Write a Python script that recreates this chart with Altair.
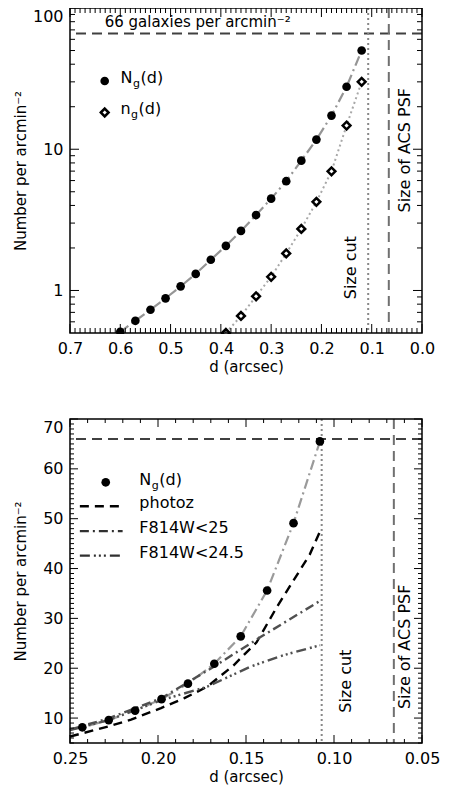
import altair as alt
import pandas as pd

# ---------------- data: top panel ----------------
top_d = [0.60, 0.57, 0.54, 0.51, 0.48, 0.45, 0.42, 0.39, 0.36, 0.33, 0.30, 0.27, 0.24, 0.21, 0.18, 0.15, 0.12]
top_Ng = [0.51, 0.61, 0.73, 0.88, 1.07, 1.31, 1.65, 2.07, 2.64, 3.42, 4.47, 5.94, 8.3, 11.7, 17.3, 27.7, 50.0]
top_nd = [0.39, 0.36, 0.33, 0.30, 0.27, 0.24, 0.21, 0.18, 0.15, 0.12]
top_ng = [0.50, 0.66, 0.91, 1.25, 1.83, 2.73, 4.24, 6.98, 14.7, 30.0]

# ---------------- data: bottom panel ----------------
bot_d = [0.243, 0.228, 0.213, 0.198, 0.183, 0.168, 0.153, 0.138, 0.123, 0.108]
bot_Ng = [8.15, 9.6, 11.5, 13.8, 16.9, 20.9, 26.4, 35.6, 49.1, 65.5]
ngcurve_d = [0.25, 0.243, 0.228, 0.213, 0.198, 0.183, 0.168, 0.153, 0.138, 0.123, 0.108]
ngcurve_v = [7.7, 8.15, 9.6, 11.5, 13.8, 16.9, 20.9, 26.4, 35.6, 49.1, 65.5]
photoz_d = [0.25, 0.2284, 0.2153, 0.1983, 0.185, 0.172, 0.157, 0.144, 0.1326, 0.1138, 0.108]
photoz_v = [6.3, 8.3, 9.7, 12.0, 14.0, 16.3, 20.6, 25.2, 32.2, 42.8, 47.4]
f25_d = [0.25, 0.2284, 0.198, 0.1683, 0.142, 0.108]
f25_v = [7.7, 9.9, 14.0, 20.3, 26.2, 33.5]
f245_d = [0.25, 0.228, 0.198, 0.172, 0.1476, 0.1289, 0.108]
f245_v = [7.6, 9.6, 13.6, 16.3, 20.3, 22.6, 24.6]

density_limit = 66
size_cut = 0.107
acs_psf = 0.066

# tick labels
top_x_major = [0.0, 0.1, 0.2, 0.3, 0.4, 0.5, 0.6, 0.7]
top_x_minor = [round(i * 0.01, 2) for i in range(71) if i % 10 != 0]
top_y_major = [1, 10, 100]
top_y_minor = [0.6, 0.7, 0.8, 0.9, 2, 3, 4, 5, 6, 7, 8, 9, 20, 30, 40, 50, 60, 70, 80, 90]
bot_x_major = [0.05, 0.10, 0.15, 0.20, 0.25]
bot_x_minor = [round(0.05 + i * 0.01, 2) for i in range(21) if i % 5 != 0]
bot_y_major = [10, 20, 30, 40, 50, 60, 70]
bot_y_minor = [v for v in range(5, 71) if v % 10 != 0]

FONT = "DejaVu Sans"
# layout (pixels): two panels stacked in one plotting area
W = 352
T0, T1 = 0, 325          # top panel vertical extent
B0, B1 = 411, 735        # bottom panel vertical extent
HT = B1

top_x = alt.Scale(domain=[0, 0.7], reverse=True, nice=False, zero=False)
top_y = alt.Scale(type="log", domain=[0.5, 100], nice=False, range=[T1, T0])
bot_x = alt.Scale(domain=[0.05, 0.25], reverse=True, nice=False, zero=False)
bot_y = alt.Scale(domain=[5, 70], nice=False, zero=False, range=[B1, B0])

y_title = "Number per arcmin\u207b\u00b2"


def x_axis(values, fmt, offset):
    return alt.Axis(orient="bottom", offset=offset, values=values, format=fmt, ticks=False, tickSize=0,
                    domain=False, grid=False, labelPadding=7, labelFlush=False, title="d (arcsec)",
                    titlePadding=3, zindex=2)


def y_axis(values, ymid):
    return alt.Axis(orient="left", values=values, format="d", ticks=False, tickSize=0, domain=False, grid=False,
                    labelPadding=7, labelFlush=True, title=y_title, titleX=-50, titleY=ymid,
                    titleAngle=270, titleBaseline="middle", titleAlign="center", zindex=2)


def xy(xscale, yscale):
    return dict(x=alt.X("x:Q", scale=xscale, axis=None), y=alt.Y("y:Q", scale=yscale, axis=None))


def text_layer(df, xscale, yscale, size=15, **kw):
    return alt.Chart(df).mark_text(font=FONT, fontSize=size, color="black", **kw).encode(
        text="t:N", **xy(xscale, yscale))


def tick_layers(xs, ys, xscale, yscale, L, y0, y1):
    out = []
    dx = pd.DataFrame({"v": xs})
    dy = pd.DataFrame({"v": ys})
    X = alt.X("v:Q", scale=xscale, axis=None)
    Y = alt.Y("v:Q", scale=yscale, axis=None)
    out.append(alt.Chart(dx).mark_rule(color="black", strokeWidth=1).encode(x=X, y=alt.value(y1), y2=alt.value(y1 - L)))
    out.append(alt.Chart(dx).mark_rule(color="black", strokeWidth=1).encode(x=X, y=alt.value(y0), y2=alt.value(y0 + L)))
    out.append(alt.Chart(dy).mark_rule(color="black", strokeWidth=1).encode(y=Y, x=alt.value(0), x2=alt.value(L)))
    out.append(alt.Chart(dy).mark_rule(color="black", strokeWidth=1).encode(y=Y, x=alt.value(W), x2=alt.value(W - L)))
    return out


def vrule(xv, xscale, color, dash, y0, y1):
    return alt.Chart(pd.DataFrame({"x": [xv]})).mark_rule(color=color, strokeWidth=2, strokeDash=dash).encode(
        x=alt.X("x:Q", scale=xscale, axis=None), y=alt.value(y0), y2=alt.value(y1))


def hrule(yv, yscale):
    return alt.Chart(pd.DataFrame({"y": [yv]})).mark_rule(color="#404040", strokeWidth=2, strokeDash=[10, 6]).encode(
        y=alt.Y("y:Q", scale=yscale, axis=None))


def frame(y0, y1):
    return alt.Chart(pd.DataFrame({"a": [0]})).mark_rect(filled=False, stroke="black", strokeWidth=1.5).encode(
        x=alt.value(0), x2=alt.value(W), y=alt.value(y0), y2=alt.value(y1))


# ================= TOP PANEL =================
df_tN = pd.DataFrame({"x": top_d, "y": top_Ng})
df_tn = pd.DataFrame({"x": top_nd, "y": top_ng})

t_axes = alt.Chart(df_tN).mark_point(opacity=0).encode(
    x=alt.X("x:Q", scale=top_x, axis=x_axis(top_x_major, ".1f", -(HT - T1))),
    y=alt.Y("y:Q", scale=top_y, axis=y_axis(top_y_major, (T0 + T1) / 2)),
)
t_points = alt.Chart(df_tN).mark_point(shape="circle", filled=True, color="black", size=75, opacity=1).encode(**xy(top_x, top_y))
t_Nline = alt.Chart(df_tN).mark_line(color="#959595", strokeWidth=2.2, strokeDash=[10, 4, 2, 4]).encode(**xy(top_x, top_y))
t_nline = alt.Chart(df_tn).mark_line(color="#a8a8a8", strokeWidth=2, strokeDash=[2, 3]).encode(**xy(top_x, top_y))
t_diam = alt.Chart(df_tn).mark_point(shape="diamond", filled=False, color="black", strokeWidth=2.5, size=60, opacity=1,
                                     fill="white", fillOpacity=1).encode(**xy(top_x, top_y))
t_h = hrule(density_limit, top_y)
t_cut = vrule(size_cut, top_x, "#888888", [2, 3], T0, T1)
t_psf = vrule(acs_psf, top_x, "#707070", [10, 6], T0, T1)

t_txt = text_layer(pd.DataFrame({"x": [0.631], "y": [80.0], "t": ["66 galaxies per arcmin\u207b\u00b2"]}),
                   top_x, top_y, 15, align="left", baseline="middle")
t_rot = text_layer(pd.DataFrame({"x": [0.142, 0.0335], "y": [1.45, 9.84], "t": ["Size cut", "Size of ACS PSF"]}),
                   top_x, top_y, 16, align="center", baseline="middle", angle=270)

t_leg_c = alt.Chart(pd.DataFrame({"x": [0.631], "y": [30.4]})).mark_point(shape="circle", filled=True, color="black", size=75, opacity=1).encode(**xy(top_x, top_y))
t_leg_d = alt.Chart(pd.DataFrame({"x": [0.631], "y": [18.2]})).mark_point(shape="diamond", filled=False, color="black", strokeWidth=2.5, size=60, opacity=1).encode(**xy(top_x, top_y))
t_leg_N = text_layer(pd.DataFrame({"x": [0.5994], "y": [31.9], "t": ["N"]}), top_x, top_y, 16, align="left", baseline="middle")
t_leg_Ng = text_layer(pd.DataFrame({"x": [0.5994], "y": [31.9], "t": ["g"]}), top_x, top_y, 11, align="left", baseline="middle", dx=12.5, dy=6)
t_leg_Nd = text_layer(pd.DataFrame({"x": [0.5994], "y": [31.9], "t": ["(d)"]}), top_x, top_y, 16, align="left", baseline="middle", dx=20)
t_leg_n = text_layer(pd.DataFrame({"x": [0.5994], "y": [19.4], "t": ["n"]}), top_x, top_y, 16, align="left", baseline="middle")
t_leg_ng = text_layer(pd.DataFrame({"x": [0.5994], "y": [19.4], "t": ["g"]}), top_x, top_y, 11, align="left", baseline="middle", dx=10.5, dy=6)
t_leg_nd = text_layer(pd.DataFrame({"x": [0.5994], "y": [19.4], "t": ["(d)"]}), top_x, top_y, 16, align="left", baseline="middle", dx=18)

top_layers = [t_axes, t_nline, t_Nline, t_h, t_cut, t_psf, t_points, t_diam]
top_text = [t_txt, t_rot, t_leg_c, t_leg_d, t_leg_N, t_leg_Ng, t_leg_Nd, t_leg_n, t_leg_ng, t_leg_nd]
top_ticks = tick_layers(top_x_major, top_y_major, top_x, top_y, 9, T0, T1) + \
    tick_layers(top_x_minor, top_y_minor, top_x, top_y, 5, T0, T1)

# ================= BOTTOM PANEL =================
df_bN = pd.DataFrame({"x": bot_d, "y": bot_Ng})
b_axes = alt.Chart(df_bN).mark_point(opacity=0).encode(
    x=alt.X("x:Q", scale=bot_x, axis=x_axis(bot_x_major, ".2f", 0)),
    y=alt.Y("y:Q", scale=bot_y, axis=y_axis(bot_y_major, (B0 + B1) / 2)),
)
b_points = alt.Chart(df_bN).mark_point(shape="circle", filled=True, color="black", size=75, opacity=1).encode(**xy(bot_x, bot_y))
b_ngline = alt.Chart(pd.DataFrame({"x": ngcurve_d, "y": ngcurve_v})).mark_line(color="#9a9a9a", strokeWidth=2.2, strokeDash=[10, 4, 2, 4]).encode(**xy(bot_x, bot_y))
b_photoz = alt.Chart(pd.DataFrame({"x": photoz_d, "y": photoz_v})).mark_line(color="black", strokeWidth=2.4, strokeDash=[9, 6]).encode(**xy(bot_x, bot_y))
b_f25 = alt.Chart(pd.DataFrame({"x": f25_d, "y": f25_v})).mark_line(color="#505050", strokeWidth=2.4, strokeDash=[9, 4, 2, 4]).encode(**xy(bot_x, bot_y))
b_f245 = alt.Chart(pd.DataFrame({"x": f245_d, "y": f245_v})).mark_line(color="#505050", strokeWidth=2.4, strokeDash=[10, 4, 2, 3, 2, 3, 2, 4]).encode(**xy(bot_x, bot_y))
b_h = hrule(density_limit, bot_y)
b_cut = vrule(size_cut, bot_x, "#888888", [2, 3], B0, B1)
b_psf = vrule(acs_psf, bot_x, "#707070", [10, 6], B0, B1)
b_rot = text_layer(pd.DataFrame({"x": [0.0934, 0.0596], "y": [17.4, 24.3], "t": ["Size cut", "Size of ACS PSF"]}),
                   bot_x, bot_y, 16, align="center", baseline="middle", angle=270)

leg_names = ["photoz", "F814W<25", "F814W<24.5"]
leg_text_y = [53.1, 48.1, 43.2]
leg_line_y = [52.5, 47.5, 42.6]
leg_x1, leg_x2, leg_tx = 0.2444, 0.2201, 0.2106
b_leg_c = alt.Chart(pd.DataFrame({"x": [0.2297], "y": [57.3]})).mark_point(shape="circle", filled=True, color="black", size=75, opacity=1).encode(**xy(bot_x, bot_y))
b_leg_N = text_layer(pd.DataFrame({"x": [leg_tx], "y": [57.7], "t": ["N"]}), bot_x, bot_y, 16, align="left", baseline="middle")
b_leg_Ng = text_layer(pd.DataFrame({"x": [leg_tx], "y": [57.7], "t": ["g"]}), bot_x, bot_y, 11, align="left", baseline="middle", dx=12.5, dy=6)
b_leg_Nd = text_layer(pd.DataFrame({"x": [leg_tx], "y": [57.7], "t": ["(d)"]}), bot_x, bot_y, 16, align="left", baseline="middle", dx=20)
b_leg_t = text_layer(pd.DataFrame({"x": [leg_tx] * 3, "y": leg_text_y, "t": leg_names}), bot_x, bot_y, 16, align="left", baseline="middle")
leg_styles = [("black", [9, 6]), ("#303030", [9, 4, 2, 4]), ("#303030", [10, 4, 2, 3, 2, 3, 2, 4])]
b_leg_lines = []
for yv, (col, dash) in zip(leg_line_y, leg_styles):
    b_leg_lines.append(
        alt.Chart(pd.DataFrame({"x": [leg_x1], "x2": [leg_x2], "y": [yv]})).mark_rule(color=col, strokeWidth=2.4, strokeDash=dash).encode(
            x=alt.X("x:Q", scale=bot_x, axis=None), x2="x2:Q", y=alt.Y("y:Q", scale=bot_y, axis=None)))

bot_layers = [b_axes, b_ngline, b_photoz, b_f25, b_f245, b_h, b_cut, b_psf, b_points]
bot_text = [b_rot, b_leg_c, b_leg_N, b_leg_Ng, b_leg_Nd, b_leg_t] + b_leg_lines
bot_ticks = tick_layers(bot_x_major, bot_y_major, bot_x, bot_y, 8, B0, B1) + \
    tick_layers(bot_x_minor, bot_y_minor, bot_x, bot_y, 4, B0, B1)

# white band between the panels hides anything spilling past a panel edge
gap = alt.Chart(pd.DataFrame({"a": [0]})).mark_rect(color="white").encode(
    x=alt.value(-2), x2=alt.value(W + 2), y=alt.value(T1 + 1), y2=alt.value(B0 - 1))

layers = top_layers + bot_layers + [gap] + top_text + bot_text + top_ticks + bot_ticks + [frame(T0, T1), frame(B0, B1)]

chart = alt.layer(*layers).resolve_scale(x="independent", y="independent").properties(
    width=W, height=HT,
    autosize=alt.AutoSizeParams(type="none"),
    padding={"left": 62, "top": 0, "right": 19, "bottom": 42},
).configure(font=FONT).configure_view(strokeWidth=0).configure_axis(
    labelFont=FONT, titleFont=FONT, labelFontSize=16, titleFontSize=15,
    labelColor="black", titleColor="black", titleFontWeight="normal"
)

chart.save("out.html", embed_options={"renderer": "svg", "actions": False})
